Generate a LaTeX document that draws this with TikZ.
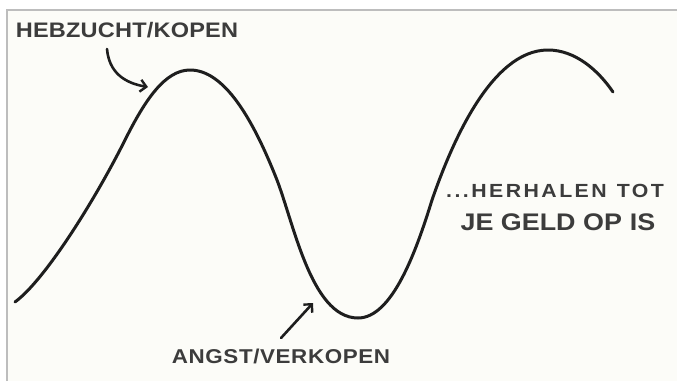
\documentclass[tikz,border=0pt]{standalone}
\usepackage{fontspec}
\usetikzlibrary{arrows.meta}
\newfontfamily\hand[FakeStretch=1.12]{Liberation Sans}
\definecolor{ink}{HTML}{1E1E1E}
\definecolor{txt}{HTML}{3C3C3C}
\definecolor{paper}{HTML}{FCFCF8}
\definecolor{framec}{HTML}{BDBDBD}
\begin{document}
\begin{tikzpicture}[x=1pt,y=-1pt,
  wave/.style={draw=ink,line width=3pt,line cap=round,line join=round},
  pointer/.style={draw=ink,line width=2.6pt,line cap=round,
    -{Straight Barb[length=6pt,width=12pt,line width=2.4pt]}},
  lbl/.style={text=txt,inner sep=0pt,anchor=center}]
\useasboundingbox (0,0) rectangle (677,381);
\fill[white] (0,0) rectangle (677,381);
\fill[paper] (7,10) rectangle (677,381);
\draw[framec,line width=1.5pt] (7,381) -- (7,10) -- (677,10);
% wave
\draw[wave] (15,302) .. controls (45,280) and (95,200) .. (125,140)
  .. controls (145,100) and (165,70) .. (190,70)
  .. controls (224,70) and (252,118) .. (275,175)
  .. controls (293,218) and (310,318) .. (358,318)
  .. controls (392,318) and (416,252) .. (432,200)
  .. controls (450,148) and (490,50) .. (548,50)
  .. controls (575,50) and (598,70) .. (613,92);
% labels
\node[lbl,font=\hand\bfseries\fontsize{21}{21}\selectfont\addfontfeature{LetterSpace=1}] (greed) at (127,30) {HEBZUCHT/KOPEN};
\node[lbl,font=\hand\bfseries\fontsize{20}{20}\selectfont\addfontfeature{LetterSpace=3}] (fear) at (281,356) {ANGST/VERKOPEN};
\node[lbl,font=\hand\bfseries\fontsize{19}{19}\selectfont\addfontfeature{LetterSpace=13}] (rep1) at (555,191) {...HERHALEN\hspace{10pt}TOT};
\node[lbl,font=\hand\bfseries\fontsize{24}{24}\selectfont] (rep2) at (558,222) {JE GELD OP\hspace{8pt}IS};
% arrows
\coordinate (g0) at (107,49);
\coordinate (g1) at (148,87);
\coordinate (f0) at (281,338);
\coordinate (f1) at (313,303);
\draw[pointer] (g0) .. controls (109,72) and (124,83) .. (g1);
\draw[pointer] (f0) -- (f1);
\end{tikzpicture}
\end{document}
